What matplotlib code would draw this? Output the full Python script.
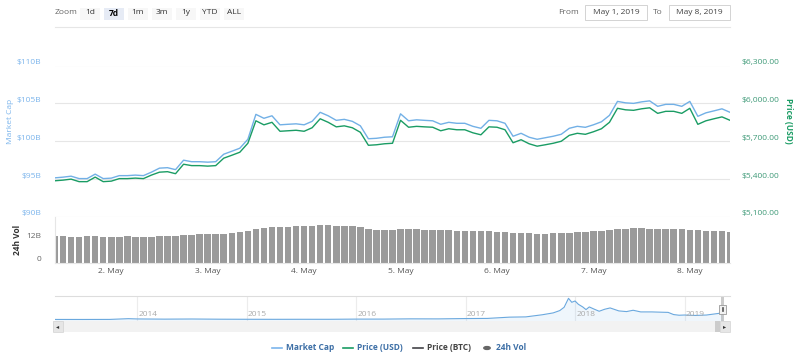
import numpy as np
import pandas as pd
import matplotlib
matplotlib.use('Agg')
import matplotlib.pyplot as plt
import matplotlib.dates as mdates
from matplotlib.patches import Rectangle, Circle
from matplotlib.lines import Line2D
from matplotlib.transforms import ScaledTranslation

plt.rcParams['font.family'] = ['Open Sans', 'DejaVu Sans']

# --- data (2-hour steps, May 1 10:00 -> May 8 10:00, 2019) ---
times = pd.date_range('2019-05-01 10:00', periods=85, freq='2h')
market_cap_b = [95.17, 95.26, 95.39, 95.07, 95.07, 95.66, 95.07, 95.13, 95.46, 95.46, 95.53, 95.46, 95.92,
                96.45, 96.51, 96.25, 97.50, 97.30, 97.30, 97.24, 97.30, 98.29, 98.68, 99.08, 100.26,
                103.55, 103.03, 103.36, 102.17, 102.24, 102.30, 102.17, 102.63, 103.82, 103.36, 102.76, 102.89, 102.63, 102.04,
                100.33, 100.39, 100.53, 100.59,
                103.62, 102.70, 102.83, 102.76, 102.70, 102.24, 102.50, 102.37, 102.37, 101.97, 101.71, 102.76, 102.70, 102.37,
                100.66, 101.05, 100.53, 100.26, 100.46, 100.66, 100.92, 101.71, 101.97, 101.84, 102.17, 102.57, 103.42,
                105.26, 105.07, 105.00, 105.20, 105.33, 104.61, 104.87, 104.87, 104.61, 105.26,
                103.29, 103.75, 104.01, 104.28, 103.82]
price_usd = [5387, 5392, 5400, 5380, 5380, 5416, 5380, 5384, 5404, 5404, 5408, 5404, 5432,
             5455, 5459, 5443, 5518, 5507, 5507, 5503, 5507, 5566, 5589, 5613, 5684,
             5862, 5830, 5850, 5779, 5783, 5787, 5779, 5807, 5878, 5850, 5814, 5822, 5807, 5771,
             5668, 5672, 5680, 5684,
             5866, 5811, 5818, 5814, 5811, 5783, 5799, 5791, 5791, 5767, 5751, 5814, 5811, 5791,
             5688, 5712, 5680, 5661, 5672, 5684, 5700, 5747, 5763, 5755, 5775, 5799, 5850,
             5961, 5949, 5945, 5957, 5965, 5921, 5937, 5937, 5921, 5961,
             5834, 5862, 5878, 5893, 5866]
volume_b = [13.7, 13.6, 13.5, 13.5, 13.6, 13.7, 13.5, 13.4, 13.5, 13.6, 13.5, 13.4,
            13.5, 13.7, 13.8, 13.9, 14.1, 14.4, 14.6, 14.7, 14.8, 15.0, 15.4, 15.7,
            16.2, 17.7, 18.2, 18.5, 18.6, 18.7, 18.8, 18.9, 19.0, 19.3, 19.4, 19.2, 19.0, 18.8, 18.5,
            17.3, 17.1, 16.9, 16.9, 17.3, 17.4, 17.2, 17.1, 17.0, 16.9,
            16.8, 16.6, 16.5, 16.4, 16.3, 16.2, 16.0, 15.7, 15.5, 15.3,
            15.2, 15.0, 15.0, 15.2, 15.3, 15.5, 15.7, 16.0, 16.3, 16.6,
            17.1, 17.6, 17.7, 17.8, 17.8, 17.7, 17.7, 17.6, 17.4, 17.3, 17.1, 16.9, 16.5, 16.4, 16.2, 16.0]

nav_years = [2013.25, 2013.5, 2013.75, 2013.92, 2014.0, 2014.25, 2014.5, 2014.75, 2015.0, 2015.25, 2015.5,
             2015.75, 2016.0, 2016.25, 2016.5, 2016.75, 2017.0, 2017.2, 2017.4, 2017.55, 2017.7, 2017.8,
             2017.86, 2017.9, 2017.94, 2017.97, 2018.0, 2018.03, 2018.07, 2018.1, 2018.13, 2018.17, 2018.22,
             2018.27, 2018.32, 2018.4, 2018.47, 2018.53, 2018.6, 2018.7, 2018.8, 2018.85, 2018.9, 2018.95,
             2019.0, 2019.1, 2019.2, 2019.3, 2019.35]
nav_mcap = [1.5, 1.2, 2.0, 13.0, 9.0, 6.0, 8.0, 5.0, 4.0, 3.3, 3.8, 3.6, 6.5, 6.7, 10.5, 9.8, 15.0, 17.0,
            36.0, 40.0, 72.0, 100.0, 135.0, 185.0, 320.0, 260.0, 280.0, 230.0, 190.0, 150.0, 190.0, 160.0,
            125.0, 155.0, 175.0, 130.0, 120.0, 140.0, 115.0, 115.0, 110.0, 108.0, 75.0, 65.0, 68.0, 62.0,
            68.0, 90.0, 102.0]

day_ticks = pd.date_range('2019-05-02', periods=7, freq='D')
day_labels = [f'{d.day}. May' for d in day_ticks]
zoom_buttons = ['1d', '7d', '1m', '3m', '1y', 'YTD', 'ALL']

W, H = 800, 358
BLUE = '#72b0e6'
GREEN = '#1a9c64'
GRID = '#e6e6e6'
FS = 6


def rect(x0, y0, x1, y1):
    return [x0 / W, 1 - y1 / H, (x1 - x0) / W, (y1 - y0) / H]


def fpt(x, y):
    return x / W, 1 - y / H


fig = plt.figure(figsize=(8, 3.58), dpi=100)
fig.patch.set_facecolor('white')

# --- main price / market cap panel ---
ax = fig.add_axes(rect(55, 65.5, 730, 217))
ax.plot(times, market_cap_b, color=BLUE, lw=1.0, zorder=3)
ax.set_ylim(90, 110)
ax.set_yticks([90, 95, 100, 105, 110])
ax.set_yticklabels([f'${v}B' for v in [90, 95, 100, 105, 110]])
ax.grid(axis='y', color=GRID, lw=0.8)
ax.set_xlim(times[0], times[-1])
ax.set_xticks([])
for s in ax.spines.values():
    s.set_visible(False)
ax.tick_params(axis='y', length=0, pad=10, labelsize=FS, labelcolor='#7cb5ec')
up = ScaledTranslation(0, 4 / 100, fig.dpi_scale_trans)
for lab in ax.get_yticklabels():
    lab.set_transform(lab.get_transform() + up)

ax2 = ax.twinx()
ax2.plot(times, price_usd, color=GREEN, lw=1.0, zorder=3)
ax2.set_ylim(5100, 6300)
ax2.set_yticks([5100, 5400, 5700, 6000, 6300])
ax2.set_yticklabels([f'${v:,.2f}' for v in [5100, 5400, 5700, 6000, 6300]])
for s in ax2.spines.values():
    s.set_visible(False)
ax2.tick_params(axis='y', length=0, pad=8, labelsize=FS, labelcolor='#3f9a78')
for lab in ax2.get_yticklabels():
    lab.set_transform(lab.get_transform() + up)

fig.text(*fpt(11, 121), 'Market Cap', rotation=90, color='#7cb5ec', fontsize=FS,
         ha='center', va='center')
fig.text(*fpt(788, 121), 'Price (USD)', rotation=270, color=GREEN, fontsize=FS,
         fontweight='bold', ha='center', va='center')

# --- volume panel ---
axv = fig.add_axes(rect(55, 217, 730, 262.5))
axv.bar(times, volume_b, width=0.068, color='#9a9a9a', align='center')
axv.set_xlim(times[0], times[-1])
axv.set_ylim(0, 23.7)
axv.set_yticks([0, 12])
axv.set_yticklabels(['0', '12B'])
axv.set_xticks(day_ticks)
axv.set_xticklabels(day_labels)
axv.tick_params(axis='y', length=0, pad=10, labelsize=FS, labelcolor='#666666')
axv.tick_params(axis='x', length=0, pad=4, labelsize=FS, labelcolor='#555555')
for lab in axv.get_yticklabels():
    lab.set_transform(lab.get_transform() + up)
for k, s in axv.spines.items():
    s.set_visible(k in ('left', 'bottom'))
    s.set_color(GRID)
fig.text(*fpt(18, 240), '24h Vol', rotation=90, color='#333333', fontsize=FS,
         fontweight='bold', ha='center', va='center')

# --- navigator ---
axn = fig.add_axes(rect(55, 296, 730, 321))
axn.plot(nav_years, nav_mcap, color='#6aa8de', lw=0.8)
axn.fill_between(nav_years, nav_mcap, -22, color='#7cb5ec', alpha=0.12, lw=0)
axn.set_xlim(2013.25, 2019.415)
axn.set_ylim(-22, 355)
axn.set_xticks([])
axn.set_yticks([])
for yr in range(2014, 2020):
    axn.axvline(yr, color='#ececec', lw=0.8, zorder=0)
    axn.text(yr + 0.012, 0.26, str(yr), transform=axn.get_xaxis_transform(),
             fontsize=FS, color='#aaaaaa', va='center', ha='left')
for k, s in axn.spines.items():
    s.set_visible(k == 'top')
    s.set_color('#dddddd')
axn.axvspan(2019.33, 2019.36, color='#999999', alpha=0.5, lw=0)
axn.add_patch(Rectangle((2019.315, 0.3), 0.065, 0.35, transform=axn.get_xaxis_transform(),
                        facecolor='#f2f2f2', edgecolor='#999999', lw=0.6, zorder=5))
for xx in (2019.34, 2019.355):
    axn.plot([xx, xx], [0.4, 0.55], transform=axn.get_xaxis_transform(),
             color='#333333', lw=0.5, zorder=6)

# --- scrollbar ---
fig.add_artist(Rectangle(fpt(53, 332), 677 / W, 11 / H, transform=fig.transFigure,
                         facecolor='#f2f2f2', edgecolor='none'))
fig.add_artist(Rectangle(fpt(53, 332), 10 / W, 11 / H, transform=fig.transFigure,
                         facecolor='#e6e6e6', edgecolor='#cccccc', lw=0.4))
fig.add_artist(Rectangle(fpt(720, 332), 10 / W, 11 / H, transform=fig.transFigure,
                         facecolor='#e6e6e6', edgecolor='#cccccc', lw=0.4))
fig.add_artist(Rectangle(fpt(715, 332), 5 / W, 11 / H, transform=fig.transFigure,
                         facecolor='#cccccc', edgecolor='none'))
fig.text(*fpt(58, 326.5), '◂', fontsize=4.5, color='#333333', ha='center', va='center',
         family='DejaVu Sans')
fig.text(*fpt(725, 326.5), '▸', fontsize=4.5, color='#333333', ha='center', va='center',
         family='DejaVu Sans')

# --- range selector toolbar ---
fig.text(*fpt(55, 12.5), 'Zoom', fontsize=FS, color='#666666', va='center', ha='left')
for i, lab in enumerate(zoom_buttons):
    x0 = 80 + 24 * i
    sel = lab == '7d'
    fig.add_artist(Rectangle(fpt(x0, 19.5), 20 / W, 12 / H, transform=fig.transFigure,
                             facecolor='#e6ebf5' if sel else '#f7f7f7', edgecolor='none'))
    fig.text(*fpt(x0 + 10, 13), lab, fontsize=FS, color='#000000' if sel else '#333333',
             fontweight='bold' if sel else 'normal', ha='center', va='center')
fig.add_artist(Line2D([55 / W, 730 / W], [1 - 27 / H] * 2, color='#e6e6e6', lw=0.8))
fig.text(*fpt(579, 12.5), 'From', fontsize=FS, color='#666666', va='center', ha='right')
fig.add_artist(Rectangle(fpt(585, 19.5), 62 / W, 14 / H, transform=fig.transFigure,
                         facecolor='white', edgecolor='#cccccc', lw=0.6))
fig.text(*fpt(616, 12.5), 'May 1, 2019', fontsize=FS, color='#444444', va='center', ha='center')
fig.text(*fpt(663, 12.5), 'To', fontsize=FS, color='#666666', va='center', ha='right')
fig.add_artist(Rectangle(fpt(669, 19.5), 61 / W, 14 / H, transform=fig.transFigure,
                         facecolor='white', edgecolor='#cccccc', lw=0.6))
fig.text(*fpt(699.5, 12.5), 'May 8, 2019', fontsize=FS, color='#444444', va='center', ha='center')

# --- legend ---
LY = 348
leg = [(272, 286, '#7cb5ec', 'Market Cap', '#3d6fa6'),
       (343, 357, GREEN, 'Price (USD)', '#3d6fa6'),
       (413, 427, '#434348', 'Price (BTC)', '#444444')]
for x0, xt, col, lab, tcol in leg:
    fig.add_artist(Line2D([x0 / W, (x0 + 10) / W], [1 - LY / H] * 2, color=col, lw=1.2))
    fig.text(*fpt(xt, LY), lab, fontsize=FS, color=tcol, fontweight='bold', va='center', ha='left')
fig.add_artist(Circle(fpt(487, LY), 3.2 / W, transform=fig.transFigure, color='#666666'))
fig.text(*fpt(496, LY), '24h Vol', fontsize=FS, color='#3d6fa6', fontweight='bold',
         va='center', ha='left')

fig.savefig('out.png', dpi=100)
